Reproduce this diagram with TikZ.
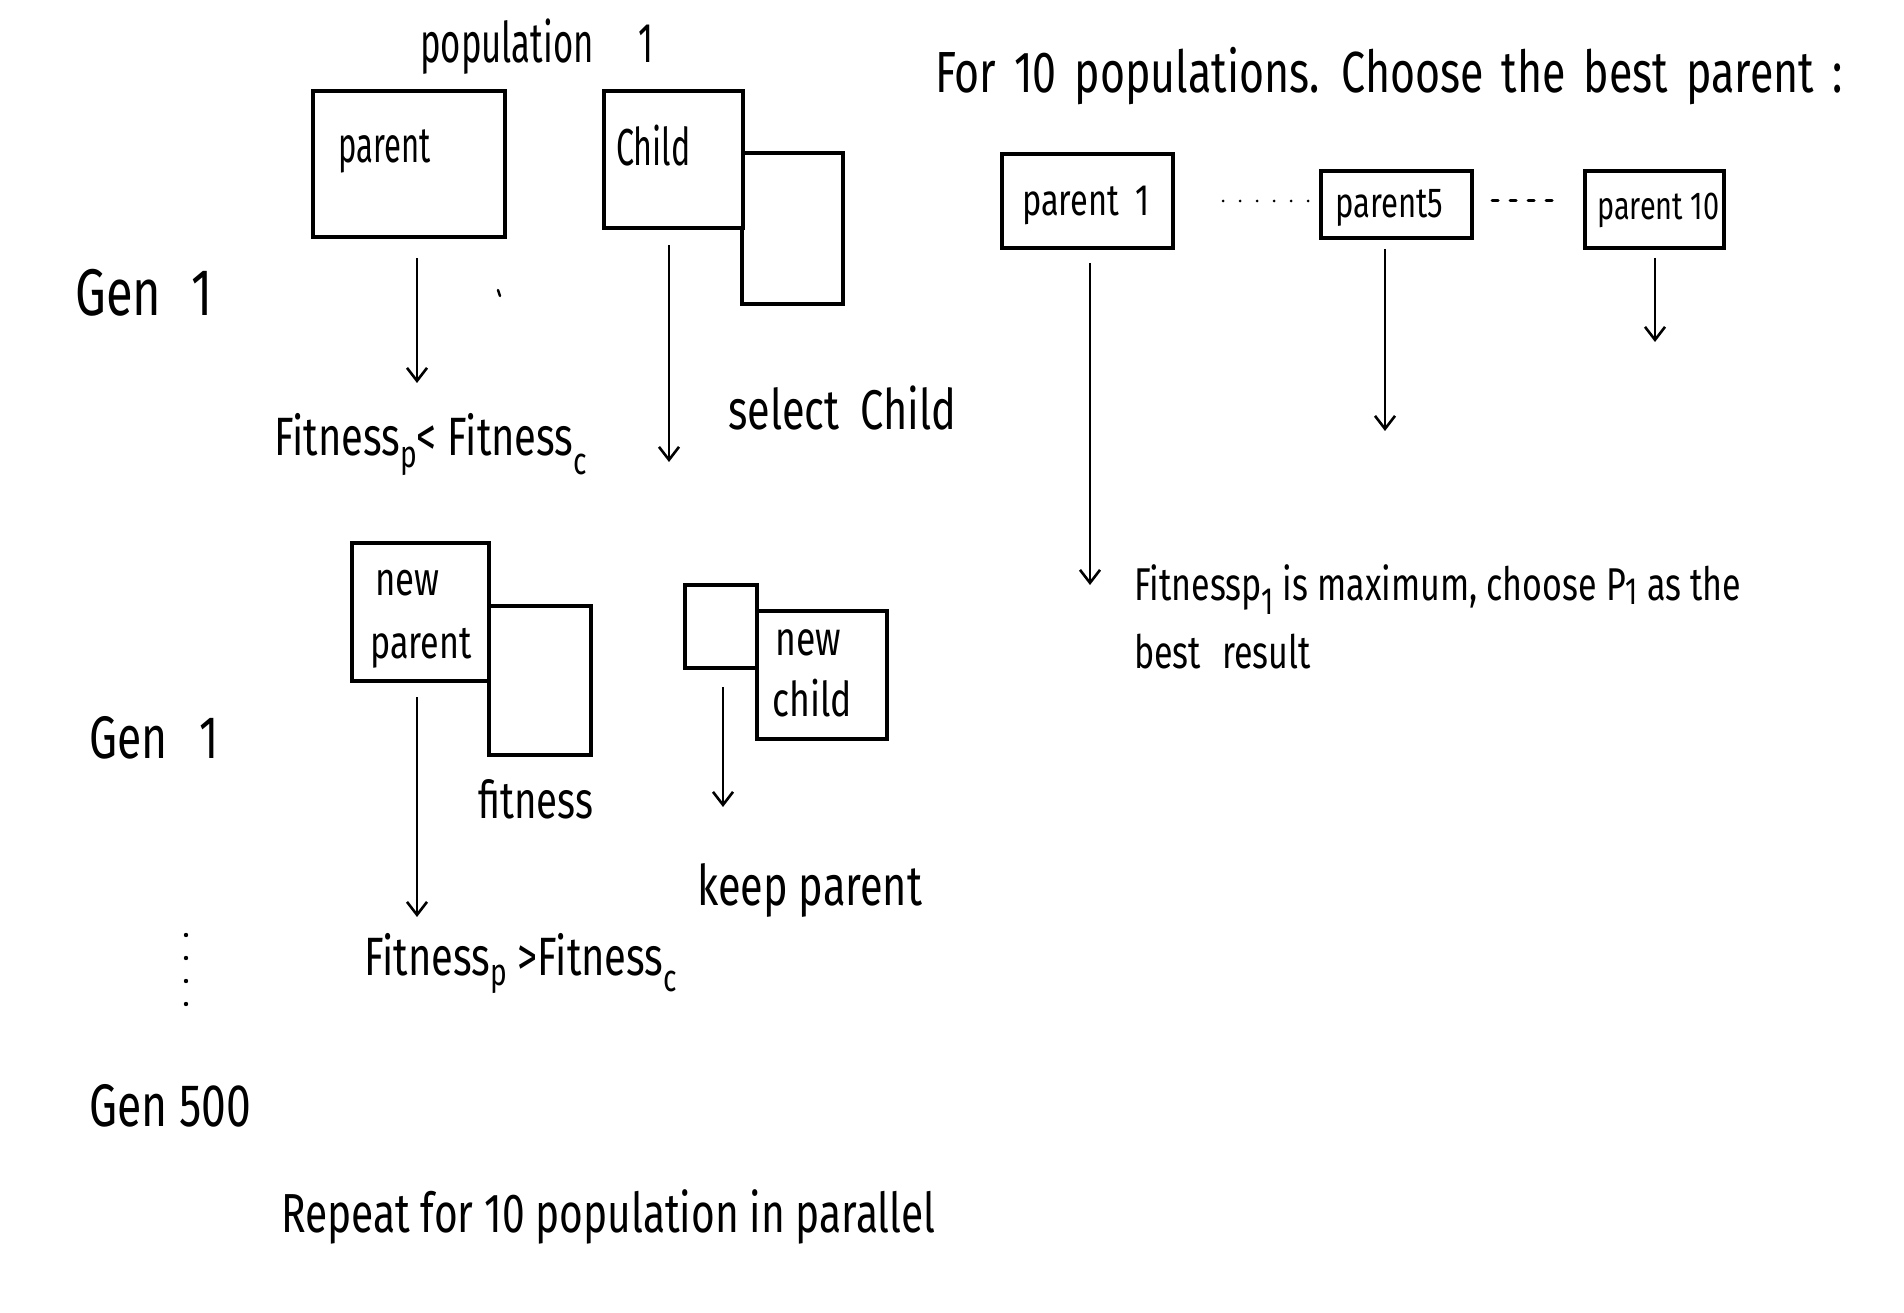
\documentclass[tikz,border=0pt]{standalone}
\usepackage{fontspec}
\setmainfont{Fira Sans}[FakeStretch=0.74]
\newfontfamily\nf{Fira Sans}[FakeStretch=0.62]
\usetikzlibrary{arrows.meta,calc}
\newcommand{\fs}[1]{\fontsize{#1}{#1}\selectfont}
\newcommand{\lsub}[2]{\raisebox{-#2pt}{\fontsize{38}{38}\selectfont #1}}
\tikzset{
  box/.style={draw, line width=4pt, inner sep=0pt, outer sep=0pt},
  arr/.style={line width=2.6pt, -{Straight Barb[length=13pt,width=20pt,line width=2.6pt]}},
  hw/.style={inner sep=0pt, anchor=base west},
}
\begin{document}
\begin{tikzpicture}[x=1pt,y=-1pt]
\useasboundingbox[fill=white] (0,0) rectangle (1904,1313);

% ---------- Gen 1 (first) ----------
\node[hw, font=\nf\fs{56}] (pop) at (420,63) {population\hspace{45pt}1};
\node[box, minimum width=192, minimum height=146] (pbox) at (409,164) {};
\node[hw, font=\nf\fs{50}] (ptxt) at (338,163) {parent};
\node[box, minimum width=101, minimum height=151] (cbox2) at (792.5,228.5) {};
\node[box, minimum width=139, minimum height=137, fill=white] (cbox) at (673.5,159.5) {};
\node[hw, font=\nf\fs{52}] (ctxt) at (616,166) {Child};
\node[hw, font=\fs{66}] (gen1a) at (75,316) {Gen\hspace{30pt}1};
\draw[line width=2.5pt, line cap=round] (498,290) -- (500,296);

\coordinate (a1e) at (417,383);
\draw[arr] ($(pbox.south -| a1e)+(0,21)$) -- (a1e);
\coordinate (a2e) at (669,462);
\draw[arr] ($(cbox.south -| a2e)+(0,17)$) -- (a2e);

\node[hw, font=\fs{54}] (fit1) at (274,456) {Fitness\lsub{p}{12}{<} Fitness\lsub{c}{18}};
\node[hw, font=\fs{56}] (sel) at (728,430) {select\hspace{10pt} Child};

% ---------- Right part ----------
\node[hw, font=\fs{58}, execute at begin node={\spaceskip=18pt plus 4pt}] (title) at (935,93) {For 10 populations. Choose the best parent :};
\node[box, minimum width=171, minimum height=94] (p1) at (1087.5,201) {};
\node[hw, font=\fs{44}] (p1t) at (1022,216) {parent\hspace{16pt}1};
\node[box, minimum width=151, minimum height=67] (p5) at (1396.5,204.5) {};
\node[hw, font=\fs{42}] (p5t) at (1335,218) {parent5};
\node[box, minimum width=139, minimum height=77] (p10) at (1654.5,209.5) {};
\node[hw, font=\fs{39}] (p10t) at (1597,220) {parent 10};

\draw[line width=3pt, line cap=round, dash pattern=on 0pt off 17pt, shorten <=50pt, shorten >=8pt]
  (p1.east) -- (p1.east -| p5.west);
\draw[line width=3pt, line cap=round, dash pattern=on 6pt off 12pt, shorten <=20pt, shorten >=26pt]
  (p1.east -| p5.east) -- (p1.east -| p10.west);

\coordinate (a3e) at (1090,585);
\draw[arr] ($(p1.south -| a3e)+(0,15)$) -- (a3e);
\coordinate (a4e) at (1385,431);
\draw[arr] ($(p5.south -| a4e)+(0,11)$) -- (a4e);
\coordinate (a5e) at (1655,342);
\draw[arr] ($(p10.south -| a5e)+(0,10)$) -- (a5e);

\node[hw, font=\fs{46}] (res1) at (1134,600) {Fitnessp\lsub{1}{14} is maximum, choose P\lsub{1}{4} as the};
\node[hw, font=\fs{46}] (res2) at (1134,668) {best\hspace{12pt} result};

% ---------- Gen 1 (second) ----------
\node[box, minimum width=102, minimum height=149] (fbox) at (540,680.5) {};
\node[box, minimum width=137, minimum height=138, fill=white] (npbox) at (420.5,612) {};
\node[hw, font=\fs{47}] (npt1) at (375,595) {new};
\node[hw, font=\fs{46}] (npt2) at (370,658) {parent};
\node[box, minimum width=72, minimum height=83] (sbox) at (721,626.5) {};
\node[box, minimum width=130, minimum height=128, fill=white] (ncbox) at (822,675) {};
\node[hw, font=\fs{48}] (nct1) at (775,655) {new};
\node[hw, font=\fs{48}] (nct2) at (772,716) {child};
\node[hw, font=\fs{60}] (gen1b) at (89,758) {Gen\hspace{32pt}1};

\coordinate (a6e) at (417,917);
\draw[arr] ($(npbox.south -| a6e)+(0,16)$) -- (a6e);
\coordinate (a7e) at (723,807);
\draw[arr] ($(sbox.south -| a7e)+(0,19)$) -- (a7e);

\node[hw, font=\fs{52}] (fitw) at (478,818) {fitness};
\node[hw, font=\fs{56}] (keep) at (697,905) {keep parent};
\node[hw, font=\fs{54}] (fit2) at (364,975) {Fitness\lsub{p}{10} >Fitness\lsub{c}{16}};

\foreach \yy in {935,958,981,1004}
  \fill (186,\yy) circle (2.2pt);

% ---------- Gen 500 ----------
\node[hw, font=\fs{60}] (gen500) at (89,1126) {Gen 500};
\node[hw, font=\fs{55}] (rep) at (281,1232) {Repeat for 10 population in parallel};
\end{tikzpicture}
\end{document}
